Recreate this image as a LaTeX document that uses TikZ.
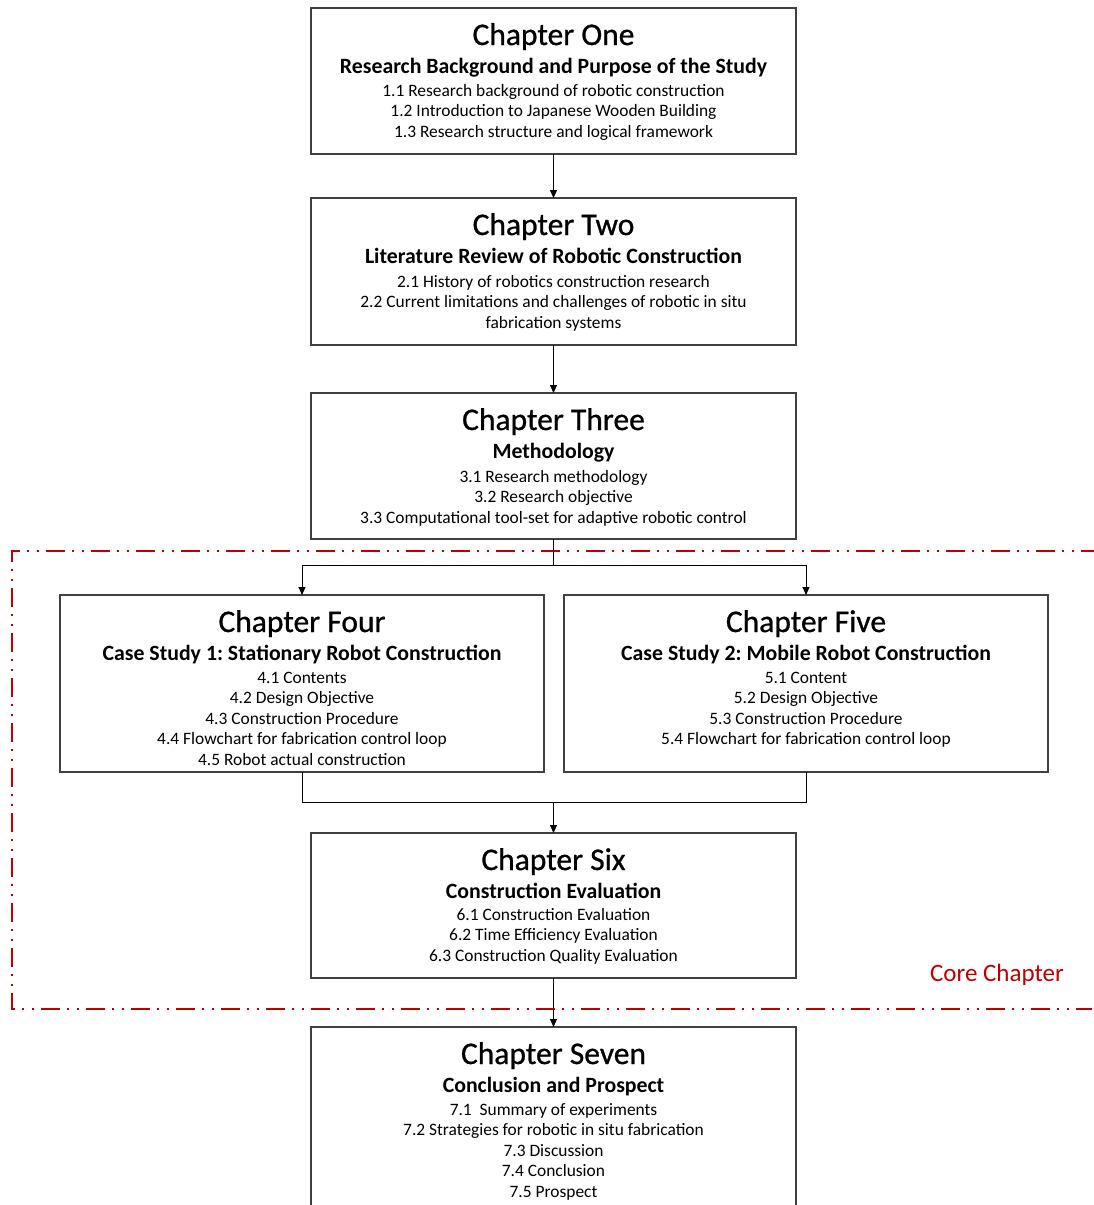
\documentclass[tikz,border=0pt]{standalone}
\usepackage{fontspec}
\setmainfont{Carlito}
\newfontfamily\titlefamily[FakeBold=0.8]{Carlito}
\usetikzlibrary{arrows.meta,calc}
\definecolor{corered}{HTML}{C00000}
\definecolor{boxgray}{HTML}{404040}
\tikzset{
  chbox/.style={draw=boxgray, line width=1.3pt, inner sep=0pt, outer sep=0pt, minimum width=485pt},
  chtitle/.style={anchor=base, inner sep=0pt, font=\titlefamily\fontsize{31.5}{36}\selectfont},
  chsub/.style={anchor=base, inner sep=0pt, font=\bfseries\fontsize{21.8}{26}\selectfont},
  chbody/.style={anchor=base, inner sep=0pt, align=center, font=\fontsize{17.4}{20.5}\selectfont},
  arr/.style={line width=1pt, -{Triangle[length=8pt,width=7pt]}},
  conn/.style={line width=1pt},
  redframe/.style={draw=corered, line width=2.5pt, dash pattern=on 19pt off 7pt on 2pt off 8pt on 2pt off 7pt}
}
\frenchspacing
\begin{document}
\begin{tikzpicture}[x=1pt,y=-1pt]
\useasboundingbox (0,0) rectangle (1094,1205);
% boxes
\node[chbox, minimum height=146pt] (c1) at (553.5,81) {};
\node[chbox, minimum height=147pt] (c2) at (553.5,271.5) {};
\node[chbox, minimum height=146pt] (c3) at (553.5,466) {};
\node[chbox, minimum width=484pt, minimum height=177pt] (c4) at (302,683.5) {};
\node[chbox, minimum width=484pt, minimum height=177pt] (c5) at (806,683.5) {};
\node[chbox, minimum height=145pt] (c6) at (553.5,905.5) {};
\node[chbox, minimum height=203pt] (c7) at (553.5,1128.5) {};
% texts (body nodes anchored at the baseline of their last line)
\node[chtitle] (c1t) at ($(c1.north)+(0,37)$) {Chapter One};
\node[chsub] (c1s) at ($(c1.north)+(0,65.5)$) {Research Background and Purpose of the Study};
\node[chbody] (c1b) at ($(c1.north)+(0,129)$) {1.1 Research background of robotic construction\\1.2 Introduction to Japanese Wooden Building\\1.3 Research structure and logical framework};

\node[chtitle] (c2t) at ($(c2.north)+(0,37)$) {Chapter Two};
\node[chsub] (c2s) at ($(c2.north)+(0,65.5)$) {Literature Review of Robotic Construction};
\node[chbody] (c2b) at ($(c2.north)+(0,130)$) {2.1 History of robotics construction research\\2.2 Current limitations and challenges of robotic in situ\\fabrication systems};

\node[chtitle] (c3t) at ($(c3.north)+(0,37)$) {Chapter Three};
\node[chsub] (c3s) at ($(c3.north)+(0,65.5)$) {Methodology};
\node[chbody] (c3b) at ($(c3.north)+(0,130)$) {3.1 Research methodology\\3.2 Research objective\\3.3 Computational tool-set for adaptive robotic control};

\node[chtitle] (c4t) at ($(c4.north)+(0,37)$) {Chapter Four};
\node[chsub] (c4s) at ($(c4.north)+(0,65.5)$) {Case Study 1: Stationary Robot Construction};
\node[chbody] (c4b) at ($(c4.north)+(0,170)$) {4.1 Contents\\4.2 Design Objective\\4.3 Construction Procedure\\4.4 Flowchart for fabrication control loop\\4.5 Robot actual construction};

\node[chtitle] (c5t) at ($(c5.north)+(0,37)$) {Chapter Five};
\node[chsub] (c5s) at ($(c5.north)+(0,65.5)$) {Case Study 2: Mobile Robot Construction};
\node[chbody] (c5b) at ($(c5.north)+(0,149.5)$) {5.1 Content\\5.2 Design Objective\\5.3 Construction Procedure\\5.4 Flowchart for fabrication control loop};

\node[chtitle] (c6t) at ($(c6.north)+(0,37)$) {Chapter Six};
\node[chsub] (c6s) at ($(c6.north)+(0,65.5)$) {Construction Evaluation};
\node[chbody] (c6b) at ($(c6.north)+(0,128)$) {6.1 Construction Evaluation\\6.2 Time Efficiency Evaluation\\6.3 Construction Quality Evaluation};

\node[chtitle] (c7t) at ($(c7.north)+(0,37)$) {Chapter Seven};
\node[chsub] (c7s) at ($(c7.north)+(0,65.5)$) {Conclusion and Prospect};
\node[chbody] (c7b) at ($(c7.north)+(0,170)$) {7.1\ \ Summary of experiments\\7.2 Strategies for robotic in situ fabrication\\7.3 Discussion\\7.4 Conclusion\\7.5 Prospect};

% connectors
\draw[arr] (c1.south) -- (c2.north);
\draw[arr] (c2.south) -- (c3.north);
\coordinate (j1) at (553.5,565);
\draw[conn] (c3.south) -- (j1);
\draw[arr] (j1) -| (c4.north);
\draw[arr] (j1) -| (c5.north);
\coordinate (j2) at (553.5,802);
\draw[conn] (c4.south) |- (j2) -| (c5.south);
\draw[arr] (j2) -- (c6.north);
\draw[arr] (c6.south) -- (c7.north);

% core chapter frame
\draw[redframe] (1100,551) -- (12,551) -- (12,1009) -- (1092,1009);
\node[anchor=center, inner sep=0pt, text=corered, font=\fontsize{25}{30}\selectfont] (core) at (997,975) {Core Chapter};
\end{tikzpicture}
\end{document}
